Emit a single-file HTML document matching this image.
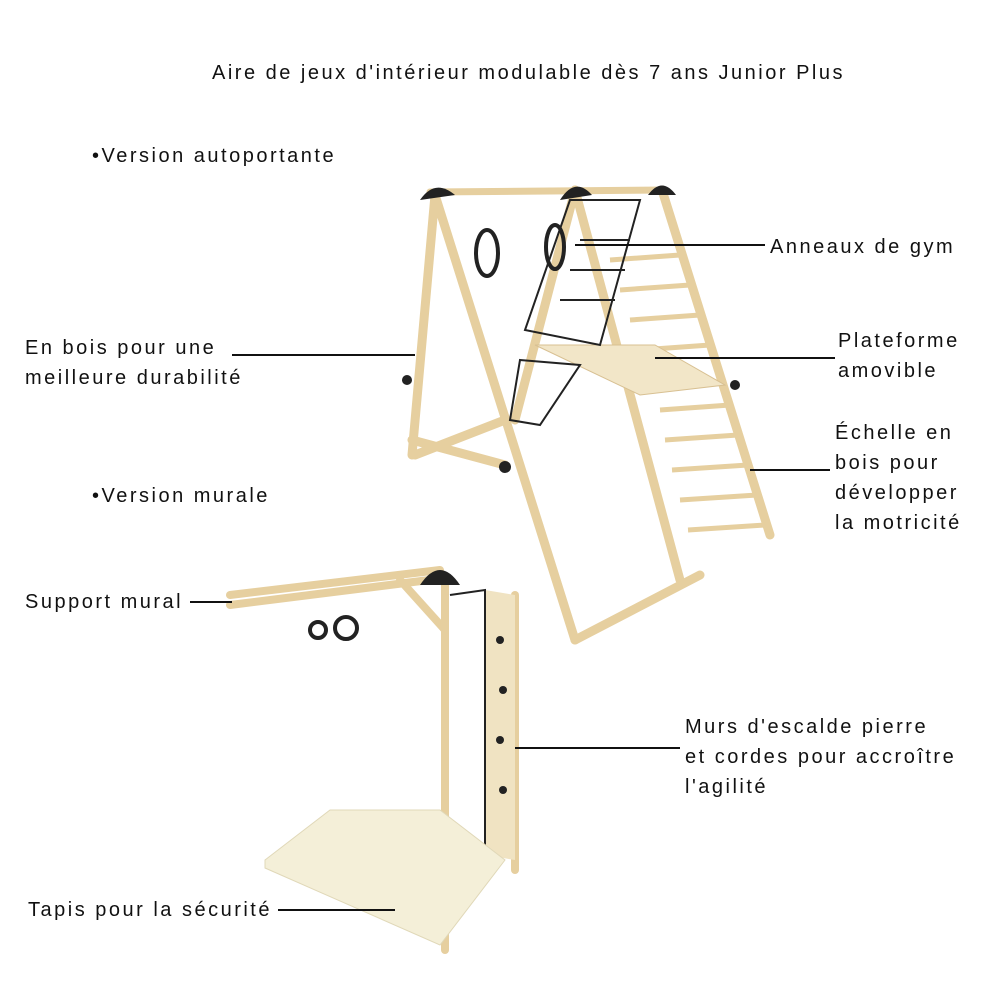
<!DOCTYPE html>
<html><head><meta charset="utf-8"><style>
body{margin:0;background:#fff;}
.w{position:relative;width:1000px;height:1000px;overflow:hidden;font-family:"Liberation Sans",sans-serif;color:#111;}
.t{position:absolute;font-size:20px;letter-spacing:2.5px;line-height:30px;white-space:nowrap;}
svg{position:absolute;left:0;top:0;}
</style></head><body><div class="w">
<svg width="1000" height="1000" viewBox="0 0 1000 1000">
<g stroke="#e6cf9f" stroke-width="9" stroke-linecap="round" fill="none">
<line x1="435" y1="195" x2="412" y2="455"/>
<line x1="435" y1="195" x2="575" y2="640"/>
<line x1="412" y1="440" x2="505" y2="465"/>
<line x1="415" y1="455" x2="505" y2="420"/>
<line x1="575" y1="190" x2="515" y2="420"/>
<line x1="662" y1="190" x2="770" y2="535"/>
<line x1="575" y1="190" x2="680" y2="580"/>
<line x1="575" y1="640" x2="700" y2="575"/>
<line x1="430" y1="192" x2="665" y2="190" stroke-width="7"/>
</g>
<g stroke="#e6cf9f" stroke-width="5">
<line x1="610" y1="260" x2="680" y2="255"/><line x1="620" y1="290" x2="690" y2="285"/>
<line x1="630" y1="320" x2="700" y2="315"/><line x1="640" y1="350" x2="710" y2="345"/>
<line x1="660" y1="410" x2="730" y2="405"/><line x1="665" y1="440" x2="738" y2="435"/>
<line x1="672" y1="470" x2="748" y2="465"/><line x1="680" y1="500" x2="757" y2="495"/>
<line x1="688" y1="530" x2="765" y2="525"/>
</g>
<polygon points="535,345 655,345 725,385 640,395" fill="#f2e6c8" stroke="#d8c092"/>
<g stroke="#222" stroke-width="2" fill="none">
<path d="M570,200 L640,200 L600,345 L525,330 Z"/>
<path d="M520,360 L580,365 L540,425 L510,420 Z"/>
<line x1="580" y1="240" x2="630" y2="240"/><line x1="570" y1="270" x2="625" y2="270"/>
<line x1="560" y1="300" x2="615" y2="300"/>
</g>
<g fill="#222"><path d="M420,200 Q435,178 455,195 Z"/><path d="M560,200 Q575,176 592,195 Z"/><path d="M648,195 Q662,176 676,195 Z"/>
<circle cx="407" cy="380" r="5"/><circle cx="505" cy="467" r="6"/><circle cx="735" cy="385" r="5"/></g>
<g stroke="#222" stroke-width="4" fill="none"><ellipse cx="487" cy="253" rx="11" ry="23"/><ellipse cx="555" cy="247" rx="9" ry="22"/>
<circle cx="318" cy="630" r="8"/><circle cx="346" cy="628" r="11"/></g>
<g stroke="#e6cf9f" stroke-width="8" stroke-linecap="round" fill="none">
<line x1="230" y1="605" x2="445" y2="578"/><line x1="230" y1="595" x2="440" y2="570"/>
<line x1="400" y1="580" x2="445" y2="630"/>
<line x1="445" y1="580" x2="445" y2="950"/><line x1="515" y1="595" x2="515" y2="870"/>
</g>
<polygon points="485,590 515,595 515,860 485,855" fill="#f0e3c2"/>
<path d="M450,595 L485,590 L485,860 L450,875" fill="none" stroke="#222" stroke-width="2"/>
<g fill="#222"><path d="M420,585 Q440,555 460,585 Z"/><circle cx="500" cy="640" r="4"/><circle cx="503" cy="690" r="4"/><circle cx="500" cy="740" r="4"/><circle cx="503" cy="790" r="4"/></g>
<polygon points="265,860 330,810 440,810 505,860 440,945 265,868" fill="#f4efd8" stroke="#e0d8b8"/>
<g stroke="#111" stroke-width="2">
<line x1="575" y1="245" x2="765" y2="245"/>
<line x1="232" y1="355" x2="415" y2="355"/>
<line x1="655" y1="358" x2="835" y2="358"/>
<line x1="750" y1="470" x2="830" y2="470"/>
<line x1="190" y1="602" x2="232" y2="602"/>
<line x1="515" y1="748" x2="680" y2="748"/>
<line x1="278" y1="910" x2="395" y2="910"/>
</g>
</svg>
<div class="t" style="left:212px;top:58px">Aire de jeux d'intérieur modulable dès 7 ans Junior Plus</div>
<div class="t" style="left:92px;top:141px">•Version autoportante</div>
<div class="t" style="left:770px;top:232px">Anneaux de gym</div>
<div class="t" style="left:25px;top:333px">En bois pour une<br>meilleure durabilité</div>
<div class="t" style="left:838px;top:326px">Plateforme<br>amovible</div>
<div class="t" style="left:835px;top:418px">Échelle en<br>bois pour<br>développer<br>la motricité</div>
<div class="t" style="left:92px;top:481px">•Version murale</div>
<div class="t" style="left:25px;top:587px">Support mural</div>
<div class="t" style="left:685px;top:712px">Murs d'escalde pierre<br>et cordes pour accroître<br>l'agilité</div>
<div class="t" style="left:28px;top:895px">Tapis pour la sécurité</div>
</div></body></html>
